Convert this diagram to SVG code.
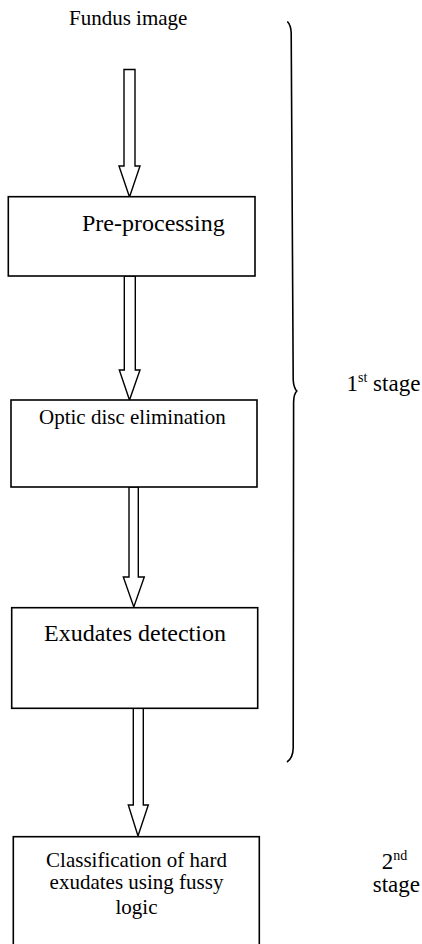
<svg xmlns="http://www.w3.org/2000/svg" width="422" height="944" viewBox="0 0 422 944">
<style>
.box{fill:#fff;stroke:#000;stroke-width:1.6}
.arr{fill:#fff;stroke:#000;stroke-width:1.4;stroke-linejoin:miter}
.t{font-family:"Liberation Serif","Times New Roman",serif;fill:#000}
.brace{fill:none;stroke:#000;stroke-width:1.6}
</style>
<rect width="422" height="944" fill="#fff"/>
<text class="t" x="69" y="25" font-size="21">Fundus image</text>
<g id="connectors">
<path class="arr" d="M124,69.5 H135 V166 H140 L129.5,197 L119,166 H124 Z"/>
<path class="arr" d="M124.3,276 H135.3 V370 H140 L129.5,400 L119.3,370 H124.3 Z"/>
<path class="arr" d="M129,487 H138.3 V577 H144.3 L133.8,607 L123.3,577 H129 Z"/>
<path class="arr" d="M133.3,708.3 H143.3 V805 H148.3 L138,836 L128.3,805 H133.3 Z"/>
</g>
<g id="n1">
<rect class="box" x="8.3" y="196.7" width="246.7" height="79.3"/>
<text class="t" x="82" y="230.7" font-size="24">Pre-processing</text>
</g>
<g id="n2">
<rect class="box" x="11" y="400" width="246" height="87"/>
<text class="t" x="39" y="424" font-size="21">Optic disc elimination</text>
</g>
<g id="n3">
<rect class="box" x="11.7" y="607.7" width="246" height="100.6"/>
<text class="t" x="44" y="640.7" font-size="24">Exudates detection</text>
</g>
<g id="n4">
<rect class="box" x="13.3" y="836.7" width="246" height="120"/>
<text class="t" x="136.5" y="866.7" font-size="21" text-anchor="middle">Classification of hard</text>
<text class="t" x="136.5" y="889.3" font-size="21" text-anchor="middle">exudates using fussy</text>
<text class="t" x="136.5" y="914" font-size="21" text-anchor="middle">logic</text>
</g>
<g id="stage1">
<path class="brace" d="M287.3,21.5 Q291,25 291.2,33 L293.2,380 Q293.8,388 296.8,391 Q293.8,394 293.6,402 L293.2,748 Q293,758 287,762"/>
<text class="t" x="346.5" y="390.7" font-size="23">1<tspan font-size="14" dy="-9">st</tspan><tspan dy="9"> stage</tspan></text>
</g>
<g id="stage2">
<text class="t" x="381.7" y="869" font-size="23">2<tspan font-size="14" dy="-9">nd</tspan></text>
<text class="t" x="372.7" y="891.7" font-size="23">stage</text>
</g>
</svg>
